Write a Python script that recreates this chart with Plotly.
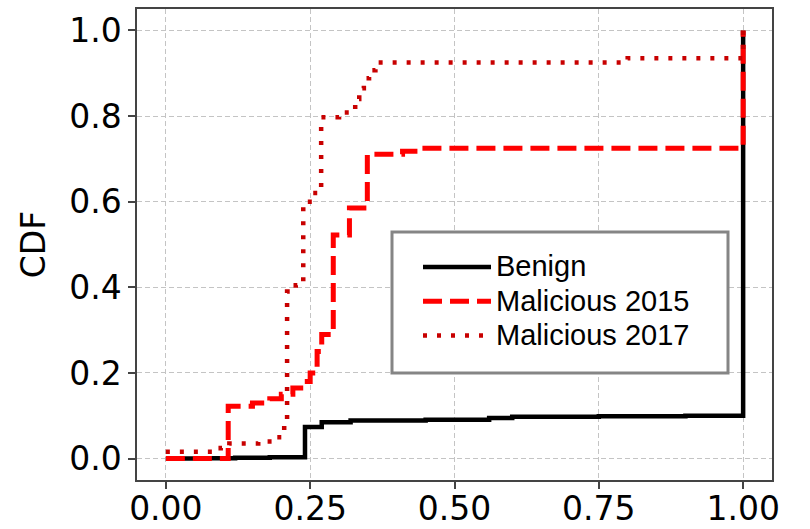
import plotly.graph_objects as go

# Empirical CDF step points (x = score, y = cumulative fraction)
benign_x = [0.0, 0.06, 0.12, 0.18, 0.241, 0.27, 0.32, 0.45, 0.56, 0.60, 0.75, 0.90, 1.0]
benign_y = [0.0, 0.001, 0.002, 0.003, 0.074, 0.085, 0.089, 0.091, 0.095, 0.098, 0.099, 0.10, 1.0]

mal2015_x = [0.0, 0.108, 0.15, 0.18, 0.20, 0.22, 0.24, 0.25, 0.262, 0.27, 0.29, 0.318, 0.349, 0.41, 0.44, 1.0]
mal2015_y = [0.0, 0.122, 0.13, 0.14, 0.15, 0.165, 0.18, 0.20, 0.25, 0.29, 0.522, 0.585, 0.711, 0.718, 0.725, 1.0]

mal2017_x = [0.0, 0.095, 0.11, 0.16, 0.19, 0.205, 0.21, 0.225, 0.238, 0.255, 0.269, 0.30, 0.32,
             0.328, 0.335, 0.343, 0.352, 0.363, 0.80, 1.0]
mal2017_y = [0.016, 0.025, 0.035, 0.04, 0.05, 0.08, 0.39, 0.405, 0.60, 0.62, 0.797, 0.808, 0.815,
             0.84, 0.865, 0.888, 0.907, 0.925, 0.935, 1.0]

series_names = ["Benign", "Malicious 2015", "Malicious 2017"]
x_ticks = [0.0, 0.25, 0.5, 0.75, 1.0]
y_ticks = [0.0, 0.2, 0.4, 0.6, 0.8, 1.0]


def legend_label(text):
    # larger glyphs than the legend's row spacing font
    return f'<span style="font-size:29px">{text}</span>'


fig = go.Figure()
fig.add_trace(go.Scatter(x=benign_x, y=benign_y, mode="lines", name=legend_label(series_names[0]),
                         line=dict(color="black", width=4.5, shape="hv")))
fig.add_trace(go.Scatter(x=mal2015_x, y=mal2015_y, mode="lines", name=legend_label(series_names[1]),
                         line=dict(color="#ff0000", width=5, shape="hv", dash="19px,8px")))
fig.add_trace(go.Scatter(x=mal2017_x, y=mal2017_y, mode="lines", name=legend_label(series_names[2]),
                         line=dict(color="#c80000", width=4.5, shape="hv", dash="4px,10px")))

axis_common = dict(
    showline=True, mirror=True, linecolor="#444", linewidth=1.5,
    ticks="outside", ticklen=7, tickwidth=1.5, tickcolor="#444",
    showgrid=True, gridcolor="#c4c4c4", gridwidth=1, griddash="5px,3px",
    zeroline=False, automargin=False,
    tickfont=dict(family="DejaVu Sans", size=33, color="black"),
)

fig.update_xaxes(range=[-0.05, 1.05], tickvals=x_ticks, tickformat=".2f",
                 ticklabelstandoff=-8, **axis_common)
fig.update_yaxes(range=[-0.05, 1.05], tickvals=y_ticks, tickformat=".1f",
                 title=dict(text="CDF", font=dict(family="DejaVu Sans", size=33, color="black"),
                            standoff=14),
                 **axis_common)

# Legend frame
fig.add_shape(type="rect", xref="paper", yref="paper",
              x0=(392 - 137) / 635, x1=(728 - 137) / 635,
              y0=(480 - 373) / 471, y1=(480 - 232) / 471,
              line=dict(color="#858585", width=3), fillcolor="white", layer="above")

fig.update_layout(
    width=810, height=529,
    margin=dict(l=137, r=38, t=9, b=49),
    paper_bgcolor="white", plot_bgcolor="white",
    showlegend=True,
    legend=dict(
        x=(418 - 137) / 635, y=(480 - 245) / 471, xanchor="left", yanchor="top",
        bgcolor="rgba(0,0,0,0)", borderwidth=0, itemwidth=68,
        font=dict(family="Liberation Sans", size=24, color="black"),
    ),
)

fig.write_html("out.html")
